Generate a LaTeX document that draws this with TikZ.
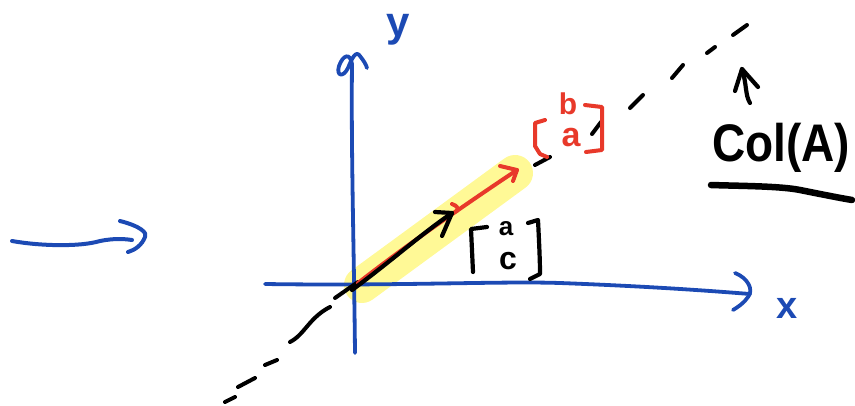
\documentclass[tikz,border=0pt]{standalone}
\usepackage{fontspec}
\setsansfont{Noto Sans}
\newfontfamily\boldhand{Liberation Sans}
\definecolor{penblue}{RGB}{28,74,180}
\definecolor{penred}{RGB}{232,57,42}
\definecolor{hilite}{RGB}{255,249,150}
\begin{document}
\begin{tikzpicture}[x=1pt,y=-1pt,line cap=round,line join=round,
  bluepen/.style={draw=penblue,line width=3.8pt},
  blackpen/.style={draw=black,line width=4.2pt},
  redpen/.style={draw=penred,line width=4pt},
  dashpiece/.style={draw=black,line width=4pt},
  lbl/.style={inner sep=0pt,font=\sffamily}]
\useasboundingbox (0,0) rectangle (855,405);
% highlight band
\draw[hilite,line width=36pt] (362,285) -- (515,173);
% axes
\draw[bluepen] (265,284) .. controls (400,286) and (500,281) .. (560,283) .. controls (640,286) and (700,290) .. (750,294);
\draw[bluepen] (735,273) .. controls (748,278) and (754,290) .. (748,297) .. controls (744,303) and (738,307) .. (733,310);
\draw[bluepen] (355,353) .. controls (354,250) and (351,150) .. (352,64);
\draw[bluepen] (352,64) .. controls (350,52) and (343,55) .. (339,66) .. controls (336,76) and (343,78) .. (348,68) .. controls (352,58) and (356,50) .. (360,56) .. controls (363,60) and (366,64) .. (367,68);
\node[lbl,text=penblue,font=\boldhand\bfseries\fontsize{42}{42}\selectfont] (ylab) at (398,30) {y};
\node[lbl,text=penblue,font=\boldhand\bfseries\fontsize{38}{38}\selectfont] (xlab) at (787,308) {x};
% dashed line pieces
\draw[dashpiece] (225,402) -- (235,397);
\draw[dashpiece] (238,387) -- (255,378);
\draw[dashpiece] (265,365) -- (277,360);
\draw[dashpiece] (290,342) .. controls (298,338) and (303,331) .. (310,323) .. controls (317,315) and (324,310) .. (330,307);
\draw[dashpiece] (335,298) -- (358,282);
\draw[dashpiece] (535,165) -- (550,157);
\draw[dashpiece] (592,134) -- (601,122);
\draw[dashpiece] (630,108) -- (643,95);
\draw[dashpiece] (672,78) -- (683,65);
\draw[dashpiece] (707,53) -- (715,47);
\draw[dashpiece] (733,35) -- (747,25);
% red vector
\coordinate (o) at (358,283);
\coordinate (rtip) at (517,170);
\draw[redpen] (o) .. controls (400,250) and (460,208) .. (rtip);
\draw[redpen] (500,166) -- (rtip) -- (513,181);
\draw[redpen] (452,204) .. controls (458,206) and (460,210) .. (455,212);
% black vector
\coordinate (btip) at (452,213);
\draw[blackpen] (352,290) .. controls (390,262) and (420,235) .. (btip);
\draw[blackpen] (435,212) -- (btip) -- (442,236);
% black column vector [a; c]
\draw[blackpen] (487,227) -- (471,229) -- (473,272);
\draw[blackpen] (528,223) -- (538,220) .. controls (539,240) and (540,260) .. (540,274) -- (530,279);
\node[lbl,font=\boldhand\bfseries\fontsize{26}{26}\selectfont] (la) at (506,229) {a};
\node[lbl,font=\boldhand\bfseries\fontsize{32}{32}\selectfont] (lc) at (508,261) {c};
% red column vector [b; a]
\draw[redpen] (545,120) -- (535,123) -- (535,146) -- (540,154) -- (547,157);
\draw[redpen] (585,105) -- (602,107) -- (602,150) -- (586,152);
\node[lbl,text=penred,font=\boldhand\bfseries\fontsize{30}{30}\selectfont] (lb) at (568,104) {b};
\node[lbl,text=penred,font=\boldhand\bfseries\fontsize{34}{34}\selectfont] (la2) at (571,138) {a};
% col(A)
\node[lbl,yscale=1.15,font=\boldhand\bfseries\fontsize{46}{46}\selectfont] (col) at (781,148) {Col(A)};
\draw[black,line width=6.5pt] (711,185) .. controls (740,186) and (780,186) .. (800,190) .. controls (820,194) and (840,198) .. (852,200);
\coordinate (uptip) at (742,69);
\draw[blackpen] (750,103) .. controls (745,95) and (747,85) .. (uptip);
\draw[blackpen] (735,91) -- (uptip) -- (758,87);
% left arrow
\coordinate (ltip) at (145,237);
\draw[bluepen,line width=4pt] (12,241) .. controls (40,246) and (80,247) .. (100,241) .. controls (115,238) and (125,239) .. (132,240);
\draw[bluepen,line width=4pt] (120,221) .. controls (140,226) and (148,233) .. (ltip) .. controls (142,245) and (135,250) .. (128,252);
\end{tikzpicture}
\end{document}
